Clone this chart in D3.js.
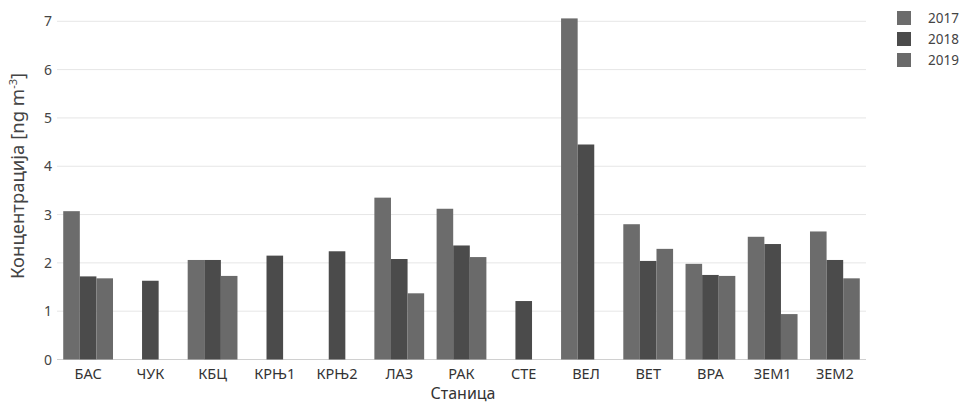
<!DOCTYPE html>
<html><head><meta charset="utf-8">
<script src="https://cdn.jsdelivr.net/npm/d3@7"></script>
<style>
body{margin:0;background:#fff;}
text{font-family:"Noto Sans","Open Sans",sans-serif;}
</style></head>
<body><svg id="c" width="965" height="404"></svg>
<script>
const categories = ["БАС","ЧУК","КБЦ","КРЊ1","КРЊ2","ЛАЗ","РАК","СТЕ","ВЕЛ","ВЕТ","ВРА","ЗЕМ1","ЗЕМ2"];
const seriesNames = ["2017","2018","2019"];
const v2017 = [3.07, null, 2.06, null, null, 3.35, 3.12, null, 7.06, 2.80, 1.98, 2.54, 2.65];
const v2018 = [1.72, 1.63, 2.06, 2.15, 2.24, 2.08, 2.36, 1.21, 4.45, 2.04, 1.75, 2.39, 2.06];
const v2019 = [1.68, null, 1.73, null, null, 1.37, 2.12, null, null, 2.29, 1.73, 0.94, 1.68];
const yTicks = [0,1,2,3,4,5,6,7];
const colors = ["#6c6c6c","#4b4b4b","#6a6a6a"];

const series = [v2017, v2018, v2019];
const svg = d3.select("#c");
const m = {l:57, r:99, t:21, b:45};
const W = 965, H = 404;
const x = d3.scaleBand().domain(categories).range([m.l, W-m.r]).paddingInner(0.2).paddingOuter(0.1);
const xs = d3.scaleBand().domain(seriesNames).range([0, x.bandwidth()]);
const y = d3.scaleLinear().domain([0,7]).range([359.5, 21.3]);

// grid
svg.append("g").selectAll("line").data(yTicks).join("line")
  .attr("x1", m.l).attr("x2", W-m.r)
  .attr("y1", d=>y(d)).attr("y2", d=>y(d))
  .attr("stroke", d=> d===0 ? "#d0d0d0" : "#e6e6e6").attr("stroke-width",1);

// y tick labels
svg.append("g").selectAll("text").data(yTicks).join("text")
  .attr("x", 52).attr("y", d=>y(d)+5).attr("text-anchor","end")
  .attr("font-size",14).attr("fill","#444").text(d=>d);

// bars
const g = svg.append("g");
series.forEach((s,i)=>{
  g.append("g").selectAll("rect").data(categories.map((c,j)=>({c, v:s[j]})).filter(d=>d.v!=null))
   .join("rect")
   .attr("x", d=>x(d.c)+xs(seriesNames[i]))
   .attr("width", xs.bandwidth())
   .attr("y", d=>y(d.v))
   .attr("height", d=>y(0)-y(d.v))
   .attr("fill", colors[i]);
});

// x labels
svg.append("g").selectAll("text").data(categories).join("text")
  .attr("x", d=>x(d)+x.bandwidth()/2).attr("y", 379)
  .attr("text-anchor","middle").attr("font-size",14.5).attr("fill","#333").text(d=>d);

// axis titles
svg.append("text").attr("x", 463).attr("y", 399)
  .attr("text-anchor","middle").attr("font-size",16).attr("fill","#333").text("Станица");
const yt = svg.append("text").attr("transform","translate(24,176) rotate(-90)")
  .attr("text-anchor","middle").attr("font-size",18.5).attr("fill","#444");
yt.append("tspan").text("Концентрација [ng m");
yt.append("tspan").attr("dy",-7).attr("font-size",11).text("-3");
yt.append("tspan").attr("dy",7).text("]");

// legend
const lg = svg.append("g").attr("transform","translate(897,11)");
seriesNames.forEach((n,i)=>{
  lg.append("rect").attr("x",0).attr("y",i*21).attr("width",14).attr("height",14).attr("fill",colors[i]);
  lg.append("text").attr("x",31).attr("y",i*21+12).attr("font-size",13.5).attr("fill","#444").text(n);
});
</script></body></html>
